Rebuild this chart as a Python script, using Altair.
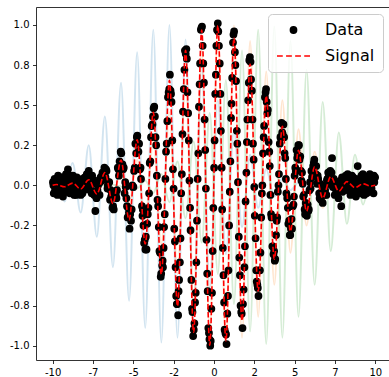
import json

import altair as alt
import pandas as pd

# Noisy samples (x, y), left flat stretch, oscillating middle, right flat stretch
data_left = [
    [-9.98, 0.02], [-9.93, -0.05], [-9.88, 0.04], [-9.81, -0.01], [-9.77, 0.03], [-9.70, -0.06],
    [-9.66, 0.06], [-9.58, 0.00], [-9.52, -0.03], [-9.47, 0.05], [-9.41, 0.01], [-9.36, -0.07],
    [-9.30, 0.03], [-9.22, -0.02], [-9.17, 0.07], [-9.11, -0.04], [-9.05, 0.10], [-8.98, 0.01],
    [-8.93, -0.05], [-8.87, 0.04], [-8.80, -0.01], [-8.74, 0.06], [-8.69, -0.03], [-8.62, 0.02],
    [-8.55, -0.06], [-8.50, 0.05], [-8.44, -0.02], [-8.37, 0.03], [-8.31, -0.04], [-8.26, -0.06],
    [-8.19, 0.01], [-8.12, 0.04], [-8.07, -0.03], [-8.01, 0.05], [-7.94, -0.01], [-7.88, 0.07],
    [-7.83, 0.02], [-7.76, 0.09], [-7.70, -0.02], [-7.63, 0.04], [-7.58, -0.05], [-7.52, 0.01],
    [-7.46, -0.04], [-7.39, 0.03], [-7.35, -0.16], [-7.28, -0.08], [-7.22, -0.03], [-7.15, 0.02],
    [-7.09, -0.06], [-7.03, 0.05], [-6.97, 0.03], [-6.91, 0.08], [-6.84, 0.04], [-6.79, 0.11],
    [-6.72, 0.05], [-6.66, 0.09], [-6.60, -0.02], [-6.55, 0.02],
    [-9.95, 0.00], [-9.85, -0.03], [-9.74, 0.01], [-9.62, -0.04], [-9.55, 0.03], [-9.44, -0.01],
    [-9.33, 0.05], [-9.26, -0.04], [-9.14, 0.02], [-9.01, -0.02], [-8.90, 0.06], [-8.77, 0.03],
    [-8.66, -0.06], [-8.52, 0.00], [-8.41, 0.04], [-8.28, -0.02], [-8.15, -0.05], [-8.04, 0.02],
    [-7.91, 0.04], [-7.79, 0.05], [-7.67, -0.03], [-7.55, 0.06], [-7.42, -0.06], [-7.31, -0.04],
    [-7.18, 0.00], [-7.06, 0.02], [-6.94, 0.06], [-6.81, 0.07], [-6.69, 0.10], [-6.58, 0.00],
]
data_mid = [
    [-6.49, 0.02], [-6.44, -0.09], [-6.37, -0.07], [-6.33, -0.04], [-6.25, -0.13], [-6.21, -0.15],
    [-6.12, -0.04], [-6.08, -0.06], [-6.01, -0.03], [-5.96, 0.11], [-5.89, 0.06], [-5.85, 0.15],
    [-5.78, 0.21], [-5.71, 0.10], [-5.67, 0.13], [-5.59, 0.11], [-5.54, -0.05], [-5.47, -0.01],
    [-5.43, -0.08], [-5.35, -0.20], [-5.30, -0.14], [-5.23, -0.27], [-5.19, -0.18], [-5.10, -0.15],
    [-5.06, 0.00], [-4.99, -0.01], [-4.95, 0.09], [-4.87, 0.26], [-4.82, 0.20], [-4.75, 0.31],
    [-4.71, 0.26], [-4.64, 0.26], [-4.59, 0.10], [-4.52, 0.04], [-4.46, -0.13], [-4.41, -0.15],
    [-4.33, -0.36], [-4.29, -0.34], [-4.22, -0.32], [-4.18, -0.40], [-4.10, -0.18], [-4.06, -0.14],
    [-3.98, 0.14], [-3.94, 0.15], [-3.86, 0.37], [-3.81, 0.38], [-3.74, 0.48], [-3.70, 0.49],
    [-3.62, 0.30], [-3.58, 0.25], [-3.50, -0.09], [-3.46, -0.13], [-3.38, -0.41], [-3.34, -0.42],
    [-3.27, -0.55], [-3.21, -0.50], [-3.16, -0.51], [-3.09, -0.26], [-3.05, -0.18], [-2.97, 0.21],
    [-2.93, 0.26], [-2.85, 0.55], [-2.81, 0.58], [-2.73, 0.69], [-2.69, 0.59], [-2.63, 0.52],
    [-2.58, 0.28], [-2.50, -0.02], [-2.46, -0.27], [-2.38, -0.51], [-2.34, -0.69], [-2.27, -0.74],
    [-2.22, -0.81], [-2.16, -0.59], [-2.11, -0.48], [-2.03, -0.05], [-1.99, 0.07], [-1.92, 0.46],
    [-1.87, 0.60], [-1.80, 0.84], [-1.75, 0.82], [-1.68, 0.79], [-1.64, 0.58], [-1.56, 0.28],
    [-1.52, 0.03], [-1.45, -0.28], [-1.40, -0.59], [-1.33, -0.79], [-1.29, -0.94], [-1.21, -0.86],
    [-1.17, -0.73], [-1.09, -0.48], [-1.05, -0.22], [-0.97, 0.20], [-0.93, 0.49], [-0.86, 0.76],
    [-0.81, 0.97], [-0.74, 0.99], [-0.70, 0.87], [-0.62, 0.64], [-0.58, 0.41], [-0.50, -0.02],
    [-0.46, -0.34], [-0.39, -0.66], [-0.35, -0.89], [-0.28, -0.96], [-0.23, -1.00], [-0.16, -0.77],
    [-0.12, -0.67], [-0.04, -0.14], [0.01, 0.11], [0.08, 0.57], [0.12, 0.69], [0.19, 0.97],
    [0.24, 1.01], [0.31, 0.87], [0.36, 0.76], [0.43, 0.34], [0.48, 0.11], [0.55, -0.39],
    [0.59, -0.56], [0.66, -0.90], [0.71, -0.92], [0.78, -0.99], [0.83, -0.80], [0.90, -0.53],
    [0.94, -0.25], [1.02, 0.15], [1.06, 0.42], [1.13, 0.67], [1.18, 0.89], [1.25, 0.96],
    [1.30, 0.83], [1.37, 0.65], [1.42, 0.34], [1.49, 0.02], [1.54, -0.32], [1.61, -0.56],
    [1.65, -0.75], [1.72, -0.80], [1.77, -0.89], [1.84, -0.65], [1.89, -0.51], [1.96, -0.10],
    [2.01, 0.08], [2.07, 0.41], [2.12, 0.53], [2.19, 0.78], [2.23, 0.80], [2.30, 0.66],
    [2.35, 0.59], [2.42, 0.26], [2.46, 0.16], [2.53, -0.19], [2.58, -0.33], [2.65, -0.60],
    [2.69, -0.62], [2.76, -0.69], [2.81, -0.53], [2.88, -0.42], [2.93, -0.20], [3.00, 0.00],
    [3.04, 0.20], [3.11, 0.37], [3.16, 0.55], [3.23, 0.60], [3.27, 0.52], [3.34, 0.47],
    [3.39, 0.27], [3.46, 0.12], [3.50, -0.06], [3.57, -0.20], [3.62, -0.38], [3.69, -0.43],
    [3.73, -0.41], [3.80, -0.46], [3.85, -0.31], [3.92, -0.20], [3.96, -0.04], [4.03, 0.07],
    [4.08, 0.26], [4.15, 0.30], [4.19, 0.39], [4.26, 0.32], [4.31, 0.38], [4.38, 0.20],
    [4.42, 0.17], [4.49, -0.05], [4.54, -0.08], [4.61, -0.24], [4.66, -0.22], [4.73, -0.31],
    [4.77, -0.27], [4.84, -0.27], [4.89, -0.13], [4.96, -0.07], [5.00, 0.06], [5.07, 0.09],
    [5.12, 0.22], [5.19, 0.19], [5.23, 0.25], [5.30, 0.16], [5.35, 0.18], [5.42, 0.03],
    [5.46, 0.08], [5.53, -0.07], [5.58, -0.06], [5.65, -0.18], [5.69, -0.11], [5.76, -0.19],
    [5.81, -0.12], [5.88, -0.15], [5.92, -0.03], [5.99, -0.02], [6.04, 0.09], [6.11, 0.06],
    [6.15, 0.12], [6.22, 0.16], [6.27, 0.07], [6.34, 0.12], [6.39, 0.01], [6.46, 0.04],
]
data_mid_b = [
    [-6.40, -0.03], [-6.29, -0.14], [-6.16, -0.05], [-6.04, -0.08], [-5.92, 0.10], [-5.82, 0.11],
    [-5.74, 0.20], [-5.63, 0.10], [-5.50, 0.02], [-5.39, -0.13], [-5.27, -0.17], [-5.14, -0.22],
    [-5.03, -0.01], [-4.91, 0.11], [-4.78, 0.30], [-4.68, 0.21], [-4.55, 0.11], [-4.43, -0.19],
    [-4.37, -0.25], [-4.25, -0.40], [-4.14, -0.24], [-4.02, -0.05], [-3.90, 0.30], [-3.78, 0.43],
    [-3.66, 0.43], [-3.54, 0.06], [-3.42, -0.26], [-3.30, -0.57], [-3.18, -0.47], [-3.12, -0.39],
    [-3.01, 0.04], [-2.89, 0.40], [-2.77, 0.60], [-2.66, 0.57], [-2.54, 0.10], [-2.42, -0.35],
    [-2.30, -0.74], [-2.19, -0.66], [-2.07, -0.33], [-1.95, 0.32], [-1.83, 0.72], [-1.71, 0.85],
    [-1.60, 0.45], [-1.48, -0.14], [-1.36, -0.77], [-1.25, -0.90], [-1.13, -0.67], [-1.01, 0.04],
    [-0.89, 0.63], [-0.78, 0.98], [-0.66, 0.76], [-0.54, 0.22], [-0.42, -0.55], [-0.31, -0.92],
    [-0.20, -0.97], [-0.08, -0.41], [0.04, 0.28], [0.15, 0.87], [0.27, 0.96], [0.40, 0.57],
    [0.51, -0.15], [0.63, -0.73], [0.75, -0.93], [0.87, -0.69], [0.98, -0.04], [1.09, 0.51],
    [1.21, 0.94], [1.33, 0.75], [1.45, 0.26], [1.57, -0.45], [1.69, -0.79], [1.80, -0.74],
    [1.92, -0.38], [2.04, 0.27], [2.16, 0.64], [2.27, 0.77], [2.39, 0.41], [2.50, -0.01],
    [2.62, -0.53], [2.72, -0.64], [2.85, -0.53], [2.97, -0.05], [3.08, 0.30], [3.20, 0.58],
    [3.31, 0.45], [3.43, 0.21], [3.54, -0.18], [3.66, -0.38], [3.77, -0.47], [3.89, -0.22],
    [4.00, 0.00], [4.12, 0.30], [4.23, 0.33], [4.35, 0.30], [4.46, 0.04], [4.58, -0.14],
    [4.70, -0.31], [4.81, -0.21], [4.93, -0.12], [5.04, 0.11], [5.16, 0.17], [5.27, 0.25],
    [5.39, 0.09], [5.50, 0.01], [5.62, -0.15], [5.73, -0.13], [5.85, -0.16], [5.96, 0.02],
    [6.08, 0.05], [6.19, 0.14], [6.31, 0.07], [6.43, 0.06],
]
data_right = [
    [6.52, -0.05], [6.57, 0.01], [6.63, -0.09], [6.69, -0.04], [6.74, -0.11], [6.80, -0.01],
    [6.86, -0.06], [6.91, 0.00], [6.97, -0.06], [7.03, 0.04], [7.08, 0.08], [7.14, 0.02],
    [7.21, 0.09], [7.26, 0.03], [7.32, 0.17], [7.37, -0.01], [7.43, 0.04], [7.49, -0.06],
    [7.55, 0.02], [7.60, -0.05], [7.66, 0.02], [7.72, -0.08], [7.77, -0.02], [7.83, 0.01],
    [7.89, -0.13], [7.94, 0.05], [8.00, -0.01], [8.06, 0.04], [8.11, -0.03], [8.17, 0.06],
    [8.23, 0.00], [8.29, 0.07], [8.34, -0.01], [8.40, 0.03], [8.46, -0.06], [8.52, 0.03],
    [8.57, -0.03], [8.63, 0.05], [8.69, -0.05], [8.74, 0.00], [8.80, -0.07], [8.86, 0.03],
    [8.91, 0.12], [8.97, -0.02], [9.03, 0.04], [9.09, -0.05], [9.14, 0.06], [9.20, -0.01],
    [9.26, 0.03], [9.31, -0.06], [9.37, 0.02], [9.43, 0.05], [9.49, -0.03], [9.54, 0.01],
    [9.60, -0.04], [9.66, 0.07], [9.72, 0.00], [9.77, -0.02], [9.83, 0.04], [9.89, -0.05],
    [9.94, 0.02], [9.99, 0.05],
    [6.55, -0.08], [6.66, -0.06], [6.77, -0.05], [6.89, -0.03], [7.00, 0.03], [7.11, 0.05],
    [7.18, 0.01], [7.29, 0.08], [7.40, 0.00], [7.52, -0.02], [7.63, -0.06], [7.75, -0.01],
    [7.86, 0.03], [7.97, -0.04], [8.09, 0.01], [8.20, 0.05], [8.32, 0.02], [8.43, -0.03],
    [8.55, 0.06], [8.66, -0.02], [8.77, 0.04], [8.89, -0.04], [9.00, 0.01], [9.12, -0.03],
    [9.23, 0.07], [9.34, 0.00], [9.46, -0.05], [9.57, 0.03], [9.69, -0.03], [9.80, 0.01],
    [9.91, 0.06],
]

# Crests and troughs of the clean signal and of the three background wavelets
wave_x = [
    -10.0, -9.76, -9.26, -8.76, -8.26, -7.76, -7.26, -6.76, -6.26, -5.76, -5.26,
    -4.76, -4.26, -3.76, -3.26, -2.76, -2.26, -1.76, -1.26, -0.76, -0.26,
    0.24, 0.74, 1.24, 1.74, 2.24, 2.74, 3.24, 3.74, 4.24, 4.74,
    5.24, 5.74, 6.24, 6.74, 7.24, 7.74, 8.24, 8.74, 9.24, 9.74, 10.0,
]
signal_y = [
    0.0, 0.005, -0.009, 0.014, -0.023, 0.035, -0.054, 0.079, -0.113, 0.158, -0.215,
    0.284, -0.365, 0.456, -0.554, 0.655, -0.753, 0.842, -0.916, 0.968, -0.996,
    0.997, -0.970, 0.918, -0.845, 0.757, -0.659, 0.558, -0.460, 0.368, -0.287,
    0.218, -0.161, 0.115, -0.080, 0.054, -0.036, 0.023, -0.014, 0.009, -0.005, 0.0,
]
blue_y = [
    0.0, 0.07, -0.10, 0.14, -0.17, 0.25, -0.32, 0.43, -0.51, 0.64, -0.72,
    0.83, -0.89, 0.97, -0.98, 1.00, -0.95, 0.91, -0.83, 0.74, -0.64,
    0.53, -0.43, 0.34, -0.26, 0.19, -0.14, 0.10, -0.07, 0.045, -0.03,
    0.018, -0.011, 0.006, -0.003, 0.001, 0.0, 0.0, 0.0, 0.0, 0.0, 0.0,
]
orange_y = [
    0.0, 0.002, -0.003, 0.005, -0.009, 0.014, -0.023, 0.035, -0.053, 0.079, -0.113,
    0.158, -0.215, 0.284, -0.365, 0.456, -0.554, 0.655, -0.753, 0.842, -0.916,
    0.968, -0.996, 0.997, -0.95, 0.90, -0.82, 0.71, -0.62, 0.53, -0.42,
    0.35, -0.25, 0.21, -0.14, 0.11, -0.07, 0.05, -0.03, 0.02, -0.01, 0.0,
]
green_y = [
    0.0, 0.0, 0.0, 0.0, 0.0, 0.0, 0.001, -0.002, 0.004, -0.007, 0.011,
    -0.019, 0.030, -0.047, 0.071, -0.105, 0.149, -0.205, 0.274, -0.357, 0.451,
    -0.552, 0.656, -0.74, 0.84, -0.91, 0.97, -0.99, 0.99, -0.95, 0.90,
    -0.82, 0.72, -0.62, 0.52, -0.41, 0.33, -0.24, 0.19, -0.12, 0.08, 0.0,
]

series_names = ["Data", "Signal"]
x_ticks = [-10, -7.5, -5, -2.5, 0, 2.5, 5, 7.5, 10]
x_tick_labels = ["-10", "-7", "-5", "-2", "0", "2", "5", "7", "10"]
y_ticks = [-1.0, -0.75, -0.5, -0.25, 0.0, 0.25, 0.5, 0.75, 1.0]
y_tick_labels = ["-1.0", "-0.8", "-0.5", "-0.2", "0.0", "0.2", "0.5", "0.8", "1.0"]

# Symbol paths in the unit square: a small dot and a dashed stroke
DOT = "M0.19,0A0.19,0.19,0,1,1,-0.19,0A0.19,0.19,0,1,1,0.19,0Z"
DASH = "M-1,0L-0.65,0M-0.45,0L-0.1,0M0.1,0L0.45,0M0.65,0L1,0"

points = pd.DataFrame(data_left + data_mid + data_mid_b + data_right, columns=["x", "y"])
points["series"] = "Data"
waves = pd.DataFrame({
    "x": wave_x, "signal": signal_y, "blue": blue_y,
    "orange": orange_y, "green": green_y,
})

x_scale = alt.Scale(domain=[-11.03, 10.85], nice=False, zero=False)
y_scale = alt.Scale(domain=[-1.089, 1.112], nice=False, zero=False)


def label_expr(values, labels):
    return f"{json.dumps(labels)}[indexof({json.dumps(values)}, datum.value)]"


bottom_axis = alt.Axis(orient="bottom", values=x_ticks,
                       labelExpr=label_expr(x_ticks, x_tick_labels),
                       title=None, labelFlush=False)
top_axis = alt.Axis(orient="top", labels=False, ticks=False, title=None)
left_axis = alt.Axis(orient="left", values=y_ticks,
                     labelExpr=label_expr(y_ticks, y_tick_labels), title=None)

legend = alt.Legend(
    orient="none", legendX=232, legendY=7, title=None, direction="vertical",
    labelFont="DejaVu Sans", labelFontSize=16, labelColor="black", labelOffset=14,
    symbolSize=1089, symbolStrokeWidth=1.5, padding=8, rowPadding=10, clipHeight=16,
    fillColor="rgba(255,255,255,0.8)", strokeColor="#cccccc", cornerRadius=4,
)


def wavelet(col, color, axis=None):
    return alt.Chart(waves).mark_line(
        color=color, opacity=0.2, strokeWidth=2, interpolate="monotone"
    ).encode(
        x=alt.X("x:Q", scale=x_scale, axis=axis),
        y=alt.Y(f"{col}:Q", scale=y_scale, axis=left_axis),
    )


dots = alt.Chart(points).mark_point(
    filled=True, size=1089, opacity=1, strokeWidth=1.5
).encode(
    x=alt.X("x:Q", scale=x_scale, axis=bottom_axis),
    y=alt.Y("y:Q", scale=y_scale, axis=left_axis),
    fill=alt.Fill("series:N", scale=alt.Scale(domain=series_names, range=["black", "red"]), legend=legend),
    stroke=alt.Stroke("series:N", scale=alt.Scale(domain=series_names, range=["black", "red"]), legend=legend),
    shape=alt.Shape("series:N", scale=alt.Scale(domain=series_names, range=[DOT, DASH]), legend=legend),
)

signal = alt.Chart(waves).mark_line(
    color="red", strokeWidth=1.6, strokeDash=[5.5, 2.4], interpolate="monotone"
).encode(
    x=alt.X("x:Q", scale=x_scale, axis=None),
    y=alt.Y("signal:Q", scale=y_scale, axis=left_axis),
)

chart = alt.layer(
    wavelet("blue", "#1f77b4", top_axis),
    wavelet("orange", "#ff7f0e"),
    wavelet("green", "#2ca02c"),
    dots,
    signal,
).resolve_axis(
    x="independent", y="shared"
).properties(
    width=353, height=353,
    autosize=alt.AutoSizeParams(type="none"),
    padding={"left": 36, "top": 7, "right": 0, "bottom": 17},
).configure_view(
    stroke=None
).configure_axis(
    labelFont="DejaVu Sans", labelFontSize=10, labelColor="black",
    tickColor="black", tickSize=3.5, tickWidth=0.8,
    domainColor="black", domainWidth=0.8, grid=False, labelPadding=3.5,
)

chart.save("out.html", embed_options={"renderer": "svg", "actions": False})
